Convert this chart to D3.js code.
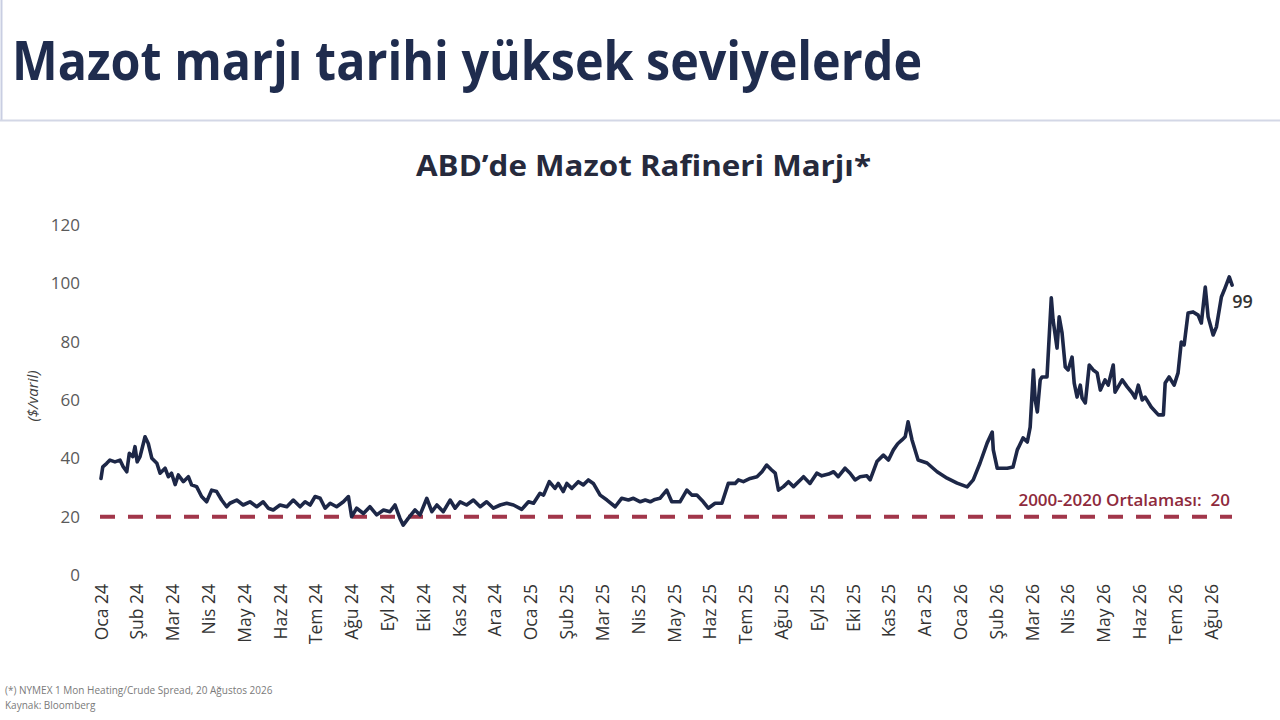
<!DOCTYPE html>
<html>
<head>
<meta charset="utf-8">
<script src="https://cdn.jsdelivr.net/npm/d3@7"></script>
<style>
  html, body { margin: 0; padding: 0; background: #ffffff; }
  svg { display: block; }
</style>
</head>
<body>
<script>
// ---- DATA ----
const monthLabels = ["Oca 24","Şub 24","Mar 24","Nis 24","May 24","Haz 24","Tem 24","Ağu 24","Eyl 24","Eki 24","Kas 24","Ara 24",
  "Oca 25","Şub 25","Mar 25","Nis 25","May 25","Haz 25","Tem 25","Ağu 25","Eyl 25","Eki 25","Kas 25","Ara 25",
  "Oca 26","Şub 26","Mar 26","Nis 26","May 26","Haz 26","Tem 26","Ağu 26"];
const yTicks = [0, 20, 40, 60, 80, 100, 120];
// [months since Oca 24, $/varil]
const spreadPoints = [
  [0.00,33.1],[0.05,37.1],[0.16,38.3],[0.25,39.4],[0.39,38.8],[0.53,39.4],[0.62,37.1],[0.72,35.4],[0.79,41.7],[0.89,40.6],
  [0.95,44.0],[1.01,38.8],[1.09,40.6],[1.23,47.4],[1.32,45.1],[1.42,40.0],[1.56,38.3],[1.65,34.9],[1.79,36.6],[1.88,33.7],
  [1.97,34.9],[2.07,31.0],[2.16,34.3],[2.30,32.0],[2.44,33.7],[2.53,30.9],[2.67,30.3],[2.81,26.9],[2.95,25.1],[3.09,29.1],
  [3.23,28.6],[3.37,25.7],[3.51,23.4],[3.60,24.6],[3.79,25.7],[3.97,24.0],[4.16,25.1],[4.35,23.4],[4.53,25.1],[4.67,22.9],
  [4.81,22.3],[5.00,24.0],[5.19,23.4],[5.37,25.7],[5.56,23.4],[5.70,25.1],[5.84,24.0],[5.98,26.9],[6.12,26.3],[6.26,22.9],
  [6.40,24.6],[6.58,23.4],[6.77,25.1],[6.91,26.9],[7.00,20.0],[7.14,22.9],[7.33,21.1],[7.51,23.4],[7.70,20.6],[7.89,22.3],
  [8.07,21.7],[8.21,24.0],[8.35,19.4],[8.44,17.1],[8.58,19.4],[8.77,22.3],[8.91,20.6],[9.10,26.3],[9.24,21.7],[9.38,24.0],
  [9.56,21.7],[9.75,25.7],[9.89,22.9],[10.03,25.1],[10.21,24.0],[10.40,25.7],[10.59,23.4],[10.77,25.1],[10.96,22.9],[11.15,24.0],
  [11.33,24.6],[11.52,24.0],[11.75,22.5],[11.94,25.1],[12.08,24.6],[12.26,28.0],[12.36,27.4],[12.52,32.0],[12.68,29.7],[12.77,31.4],
  [12.91,28.6],[13.01,31.4],[13.15,29.7],[13.33,32.0],[13.47,30.9],[13.61,32.6],[13.75,31.4],[13.94,27.4],[14.13,25.7],[14.36,23.4],
  [14.54,26.3],[14.73,25.7],[14.87,26.3],[15.06,25.1],[15.20,25.7],[15.34,25.1],[15.47,25.9],[15.61,26.3],[15.80,29.1],[15.94,25.1],
  [16.17,25.1],[16.36,29.1],[16.50,27.4],[16.64,27.4],[16.82,25.1],[16.96,22.9],[17.15,24.6],[17.34,24.6],[17.52,31.4],[17.71,31.4],
  [17.80,32.6],[17.94,32.0],[18.13,33.1],[18.32,33.7],[18.46,35.4],[18.59,37.7],[18.73,36.0],[18.83,34.9],[18.92,29.1],[19.06,30.3],
  [19.20,32.0],[19.34,30.3],[19.53,32.6],[19.62,33.7],[19.80,31.4],[19.99,34.9],[20.13,34.0],[20.32,34.6],[20.46,35.4],[20.59,33.7],
  [20.78,36.6],[20.92,34.9],[21.06,32.6],[21.20,33.7],[21.39,34.0],[21.48,32.6],[21.67,38.9],[21.85,41.1],[21.99,39.4],[22.13,42.9],
  [22.25,45.0],[22.37,46.3],[22.46,47.4],[22.54,52.5],[22.65,46.3],[22.82,39.4],[23.07,38.4],[23.35,35.4],[23.63,33.2],[23.91,31.5],
  [24.19,30.2],[24.36,32.6],[24.55,38.4],[24.75,45.3],[24.89,49.0],[24.92,42.9],[25.03,36.6],[25.31,36.6],[25.47,37.0],[25.59,42.9],
  [25.75,47.0],[25.87,45.6],[25.95,50.7],[26.04,70.3],[26.09,60.0],[26.15,55.9],[26.23,66.9],[26.28,67.9],[26.42,67.9],[26.54,95.0],
  [26.59,87.4],[26.70,77.8],[26.76,88.5],[26.84,83.0],[26.93,71.3],[27.01,70.3],[27.12,74.7],[27.18,65.8],[27.26,61.0],[27.35,65.1],
  [27.40,60.7],[27.49,59.0],[27.60,72.0],[27.71,70.3],[27.82,69.3],[27.91,63.4],[28.04,66.9],[28.13,65.1],[28.27,72.0],[28.32,62.7],
  [28.52,66.9],[28.66,64.5],[28.80,62.4],[28.88,60.7],[28.97,65.1],[29.08,60.0],[29.16,61.0],[29.33,57.6],[29.53,54.9],[29.67,54.9],
  [29.72,65.8],[29.83,67.9],[29.97,65.1],[30.08,69.3],[30.17,79.9],[30.25,78.9],[30.36,89.8],[30.50,90.2],[30.64,89.1],[30.73,86.4],
  [30.84,98.7],[30.92,88.5],[31.06,82.3],[31.15,85.0],[31.29,95.3],[31.37,97.7],[31.51,102.2],[31.59,99.4]
];
const avgValue = 20;
const lastLabel = "99";
const avgLabel = "2000-2020 Ortalaması:  20";
const titleText = "Mazot marjı tarihi yüksek seviyelerde";
const subtitleText = "ABD’de Mazot Rafineri Marjı*";
const yAxisLabel = "($/varil)";
const footnotes = ["(*) NYMEX 1 Mon Heating/Crude Spread, 20 Ağustos 2026", "Kaynak: Bloomberg"];

// ---- CHART ----
const W = 1280, H = 720;
const svg = d3.select("body").append("svg").attr("width", W).attr("height", H)
  .style("font-family", "'Open Sans', 'Noto Sans', sans-serif");

svg.append("rect").attr("width", W).attr("height", H).attr("fill", "#ffffff");

// header frame
svg.append("line").attr("x1", 1.5).attr("x2", 1.5).attr("y1", 0).attr("y2", 120)
  .attr("stroke", "#c9cee2").attr("stroke-width", 2);
svg.append("line").attr("x1", 0).attr("x2", W).attr("y1", 120.5).attr("y2", 120.5)
  .attr("stroke", "#d3d7e6").attr("stroke-width", 2);

function fitText(sel, width) {
  const len = sel.node().getComputedTextLength();
  if (len > 0) sel.attr("textLength", width).attr("lengthAdjust", "spacingAndGlyphs");
}

const title = svg.append("text").attr("x", 12).attr("y", 80)
  .attr("font-size", 54).attr("font-weight", 700).attr("fill", "#1f2c4e")
  .text(titleText);
fitText(title, 910);

const sub = svg.append("text").attr("x", 416).attr("y", 176)
  .attr("font-size", 29).attr("font-weight", 700).attr("fill", "#262a3c")
  .text(subtitleText);
fitText(sub, 455);

const x = d3.scaleLinear().domain([0, 31]).range([101, 1211]);
const y = d3.scaleLinear().domain([0, 120]).range([575, 225]);

// y axis tick labels
const yAxis = d3.axisLeft(y).tickValues(yTicks).tickSize(0).tickPadding(0);
const gy = svg.append("g").attr("transform", "translate(80,0)").call(yAxis);
gy.select(".domain").remove();
gy.selectAll("text").attr("font-size", 17).attr("fill", "#5a5a5a")
  .attr("font-family", "'Open Sans', sans-serif");

svg.append("text")
  .attr("transform", "translate(38,396) rotate(-90)")
  .attr("text-anchor", "middle").attr("font-size", 15).attr("font-style", "italic")
  .attr("fill", "#404040").text(yAxisLabel);

// x axis labels (rotated)
const xAxis = d3.axisBottom(x).tickValues(d3.range(monthLabels.length))
  .tickFormat(i => monthLabels[i]).tickSize(0).tickPadding(0);
const gx = svg.append("g").attr("transform", "translate(0,584)").call(xAxis);
gx.select(".domain").remove();
gx.selectAll("text")
  .attr("font-size", 17.5).attr("fill", "#333333")
  .attr("font-family", "'Open Sans', sans-serif")
  .attr("text-anchor", "end").attr("dy", "0.35em")
  .attr("transform", "rotate(-90)")
  .attr("x", 0).attr("y", 0);

// average dashed line
svg.append("line")
  .attr("x1", x(0) - 1).attr("x2", 1232)
  .attr("y1", y(avgValue)).attr("y2", y(avgValue))
  .attr("stroke", "#a1364a").attr("stroke-width", 4)
  .attr("stroke-dasharray", "15,13");

svg.append("text").attr("x", 1230).attr("y", y(avgValue) - 11)
  .attr("text-anchor", "end").attr("font-size", 17).attr("font-weight", 600)
  .attr("fill", "#8e2a3c").style("white-space", "pre").attr("xml:space", "preserve")
  .text(avgLabel);

// main line
const data = spreadPoints.map(p => ({ m: p[0], v: p[1] }));
const line = d3.line().x(d => x(d.m)).y(d => y(d.v));
svg.append("path").datum(data)
  .attr("d", line).attr("fill", "none")
  .attr("stroke", "#1d2747").attr("stroke-width", 3.6)
  .attr("stroke-linejoin", "round").attr("stroke-linecap", "round");

const last = data[data.length - 1];
svg.append("text").attr("x", x(last.m)).attr("y", y(last.v) + 23)
  .attr("font-size", 18).attr("font-weight", 600).attr("fill", "#333333")
  .text(lastLabel);

// footnotes
footnotes.forEach((t, i) => {
  svg.append("text").attr("x", 5).attr("y", 694 + i * 15)
    .attr("font-size", 10).attr("fill", "#7a7a7a").text(t);
});
</script>
</body>
</html>
